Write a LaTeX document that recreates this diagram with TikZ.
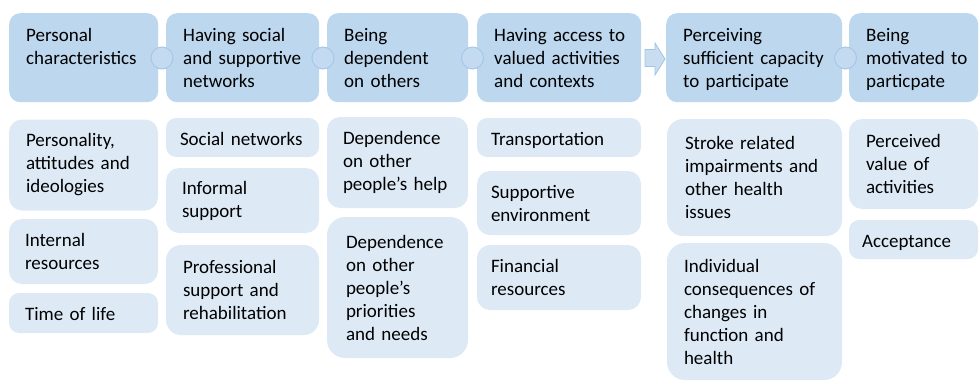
\documentclass[tikz,border=0pt]{standalone}
\usepackage{fontspec}
\setmainfont{Carlito}
\definecolor{hdrc}{HTML}{BDD7EE}
\definecolor{subc}{HTML}{DDEAF6}
\definecolor{knobfill}{HTML}{C4DAF0}
\definecolor{knobline}{HTML}{A6C8E8}
\definecolor{arrfill}{HTML}{C9DDF1}
\definecolor{arrline}{HTML}{9FC4E7}
\begin{document}
\begin{tikzpicture}[x=1pt,y=-1pt,
  txt/.style={font=\fontsize{19}{23}\selectfont, align=left, text=black},
  hdr/.style={txt, fill=hdrc, rounded corners=11pt, anchor=north west,
    inner xsep=17pt, inner ysep=10pt, text height=18.7pt, text depth=50.3pt},
  sub/.style={txt, fill=subc, rounded corners=13pt, inner ysep=0pt},
  oneline/.style={text height=19pt, text depth=4pt, rounded corners=10pt},
  knob/.style={circle, minimum size=22pt, inner sep=0pt, fill=knobfill, draw=knobline, line width=1pt},
  blockarrow/.style={fill=arrfill, draw=arrline, line width=0.8pt, line join=miter}]
\useasboundingbox (0,0) rectangle (980,381);
\clip (0,0) rectangle (980,381);

% header row
\node[hdr, text width=115pt] (h1) at (9,13) {Personal\\characteristics};
\node[hdr, text width=119pt] (h2) at (166,13) {\mbox{Having social}\\\mbox{and supportive}\\networks};
\node[hdr, text width=107pt] (h3) at (327,13) {Being\\dependent\\\mbox{on others}};
\node[hdr, text width=130pt] (h4) at (477,13) {\mbox{Having access to}\\\mbox{valued activities}\\\mbox{and contexts}};
\node[hdr, text width=142pt] (h5) at (666,13) {Perceiving\\\mbox{sufficient capacity}\\\mbox{to participate}};
\node[hdr, text width=95pt] (h6) at (849,13) {Being\\\mbox{motivated to}\\particpate};

% connectors between header boxes
\node[knob] (k1) at (162,58) {};
\node[knob] (k2) at (323,58) {};
\node[knob] (k3) at (472.5,58) {};
\node[knob] (k5) at (845.5,58) {};
\draw[blockarrow] (645,49.5) -- (655,49.5) -- (655,43) -- (665,59) -- (655,75) -- (655,66.5) -- (645,66.5) -- cycle;

% column 1
\node[sub, minimum width=149pt, minimum height=91pt, inner xsep=17pt, text width=115pt] (c1a) at (83.5,165) {Personality,\\\mbox{attitudes and}\\ideologies};
\node[sub, minimum width=149pt, minimum height=65pt, inner xsep=16pt, text width=117pt] (c1b) at (83.5,251.5) {Internal\\resources};
\node[sub, oneline, minimum width=149pt, minimum height=40pt, inner xsep=16pt, text width=117pt] (c1c) at (83.5,313) {\mbox{Time of life}};

% column 2
\node[sub, oneline, minimum width=153pt, minimum height=39pt, inner xsep=14pt, text width=125pt] (c2a) at (242.5,137.5) {\mbox{Social networks}};
\node[sub, minimum width=153pt, minimum height=65pt, inner xsep=16pt, text width=121pt] (c2b) at (242.5,200.5) {Informal\\support};
\node[sub, minimum width=153pt, minimum height=90pt, inner xsep=17pt, text width=119pt, rounded corners=15pt] (c2c) at (242.5,290) {Professional\\\mbox{support and}\\rehabilitation};

% column 3
\node[sub, minimum width=141pt, minimum height=91pt, inner xsep=16pt, text width=109pt] (c3a) at (397.5,162.5) {Dependence\\\mbox{on other}\\\mbox{people’s help}};
\node[sub, minimum width=141pt, minimum height=141pt, inner xsep=19pt, text width=103pt, rounded corners=18pt] (c3b) at (397.5,287.5) {Dependence\\\mbox{on other}\\people’s\\priorities\\\mbox{and needs}};

% column 4
\node[sub, oneline, minimum width=164pt, minimum height=39pt, inner xsep=14pt, text width=136pt] (c4a) at (559,137.5) {Transportation};
\node[sub, minimum width=164pt, minimum height=64pt, inner xsep=14pt, text width=136pt] (c4b) at (559,203) {Supportive\\environment};
\node[sub, minimum width=164pt, minimum height=65pt, inner xsep=14pt, text width=136pt] (c4c) at (559,277.5) {Financial\\resources};

% column 5
\node[sub, minimum width=175pt, minimum height=117pt, inner xsep=18pt, text width=139pt, rounded corners=16pt] (c5a) at (754.5,177.5) {\mbox{Stroke related}\\\mbox{impairments and}\\\mbox{other health}\\issues};
\node[sub, minimum width=175pt, minimum height=137pt, inner xsep=17pt, text width=141pt, rounded corners=18pt] (c5b) at (754.5,311.5) {Individual\\\mbox{consequences of}\\\mbox{changes in}\\\mbox{function and}\\health};

% column 6
\node[sub, minimum width=129pt, minimum height=90pt, inner xsep=17pt, text width=95pt] (c6a) at (913.5,164) {Perceived\\\mbox{value of}\\activities};
\node[sub, oneline, minimum width=129pt, minimum height=39pt, inner xsep=13pt, text width=103pt] (c6b) at (913.5,239.5) {Acceptance};
\end{tikzpicture}
\end{document}
